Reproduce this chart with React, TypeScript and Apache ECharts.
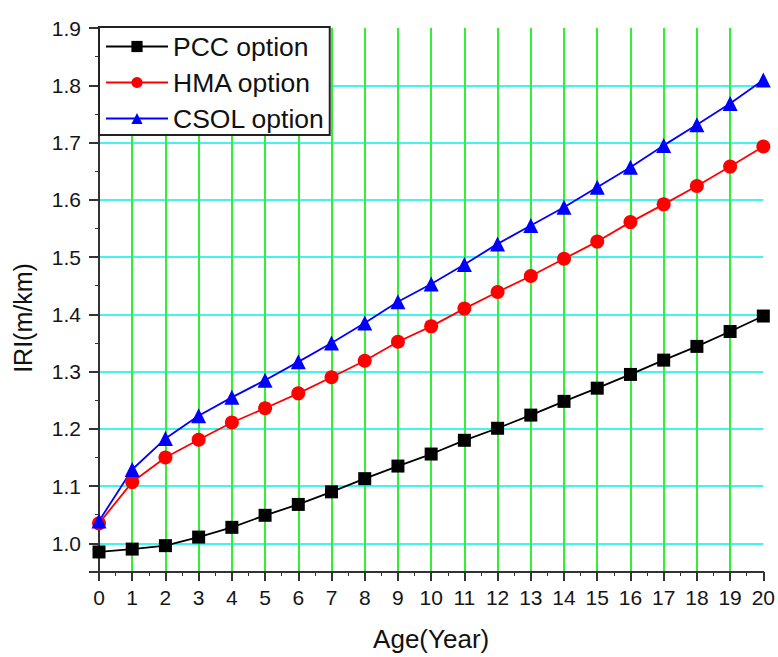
import React, { useEffect, useRef } from "react";
import * as echarts from "echarts";

const ages = [0, 1, 2, 3, 4, 5, 6, 7, 8, 9, 10, 11, 12, 13, 14, 15, 16, 17, 18, 19, 20];
const pccValues = [0.985, 0.990, 0.996, 1.011, 1.028, 1.049, 1.068, 1.090, 1.113, 1.135, 1.156, 1.180, 1.201, 1.224, 1.248, 1.271, 1.295, 1.320, 1.344, 1.370, 1.397];
const hmaValues = [1.035, 1.107, 1.150, 1.181, 1.211, 1.236, 1.262, 1.290, 1.319, 1.352, 1.379, 1.410, 1.439, 1.467, 1.497, 1.527, 1.561, 1.592, 1.624, 1.658, 1.693];
const csolValues = [1.039, 1.129, 1.183, 1.223, 1.255, 1.285, 1.317, 1.350, 1.385, 1.422, 1.453, 1.487, 1.523, 1.555, 1.587, 1.622, 1.657, 1.695, 1.731, 1.768, 1.809];
const seriesNames = ["PCC option", "HMA option", "CSOL option"];

const FONT = "'Liberation Sans', Arial, sans-serif";

export default function App() {
  const ref = useRef<HTMLDivElement>(null);
  useEffect(() => {
    if (!ref.current) return;
    const chart = echarts.init(ref.current, undefined, { renderer: "svg" });
    const mk = (vals: number[]) => ages.map((a, i) => [a, vals[i]]);
    chart.setOption({
      animation: false,
      backgroundColor: "#ffffff",
      textStyle: { fontFamily: FONT },
      grid: { left: 99, right: 13, top: 28, bottom: 83, containLabel: false },
      legend: {
        data: seriesNames,
        orient: "vertical",
        left: 99,
        top: 27,
        padding: [6, 5, 3, 6],
        itemWidth: 62,
        itemHeight: 14,
        itemGap: 9,
        backgroundColor: "#ffffff",
        borderColor: "#222222",
        borderWidth: 2,
        borderRadius: 0,
        textStyle: { fontFamily: FONT, fontSize: 26.5, color: "#111111", lineHeight: 24 },
      },
      xAxis: {
        type: "value",
        min: 0,
        max: 20,
        interval: 1,
        name: "Age(Year)",
        nameLocation: "middle",
        nameGap: 54,
        nameTextStyle: { fontFamily: FONT, fontSize: 26, color: "#111111" },
        axisLine: { show: true, onZero: false, lineStyle: { color: "#333333", width: 2 } },
        axisTick: { show: true, length: 9, lineStyle: { color: "#333333", width: 2 } },
        minorTick: { show: true, splitNumber: 2, length: 4, lineStyle: { color: "#333333", width: 1 } },
        axisLabel: { fontFamily: FONT, fontSize: 21, color: "#151515", margin: 15 },
        splitLine: {
          show: true,
          showMinLine: false,
          showMaxLine: false,
          lineStyle: { color: "#33ee33", width: 2 },
        },
      },
      yAxis: {
        type: "value",
        min: 0.95,
        max: 1.9,
        splitNumber: 9,
        name: "IRI(m/km)",
        nameLocation: "middle",
        nameGap: 64,
        nameTextStyle: { fontFamily: FONT, fontSize: 25, color: "#111111", padding: [0, 36, 0, 0] },
        axisLine: { show: true, onZero: false, lineStyle: { color: "#333333", width: 2 } },
        axisTick: { show: true, length: 10, lineStyle: { color: "#333333", width: 2 } },
        minorTick: { show: true, splitNumber: 2, length: 4, lineStyle: { color: "#333333", width: 1 } },
        axisLabel: {
          fontFamily: FONT,
          fontSize: 21,
          color: "#151515",
          margin: 18,
          showMinLabel: false,
          formatter: (v: number) => (Math.abs(v - 0.95) < 1e-6 ? "" : v.toFixed(1)),
        },
        splitLine: {
          show: true,
          showMinLine: false,
          showMaxLine: false,
          lineStyle: { color: "#44f2f2", width: 2 },
        },
      },
      series: [
        {
          name: seriesNames[0],
          type: "line",
          data: mk(pccValues),
          symbol: "rect",
          symbolSize: 13,
          itemStyle: { color: "#000000" },
          lineStyle: { color: "#000000", width: 1.8 },
        },
        {
          name: seriesNames[1],
          type: "line",
          data: mk(hmaValues),
          symbol: "circle",
          symbolSize: 14,
          itemStyle: { color: "#ff0000" },
          lineStyle: { color: "#ff0000", width: 1.8 },
        },
        {
          name: seriesNames[2],
          type: "line",
          data: mk(csolValues),
          symbol: "triangle",
          symbolSize: 15,
          itemStyle: { color: "#0000ff" },
          lineStyle: { color: "#0000ff", width: 1.8 },
        },
      ],
    });
    return () => chart.dispose();
  }, []);
  return (
    <div
      ref={ref}
      style={{ position: "fixed", left: 0, top: 0, width: 778, height: 657, background: "#fff" }}
    />
  );
}
